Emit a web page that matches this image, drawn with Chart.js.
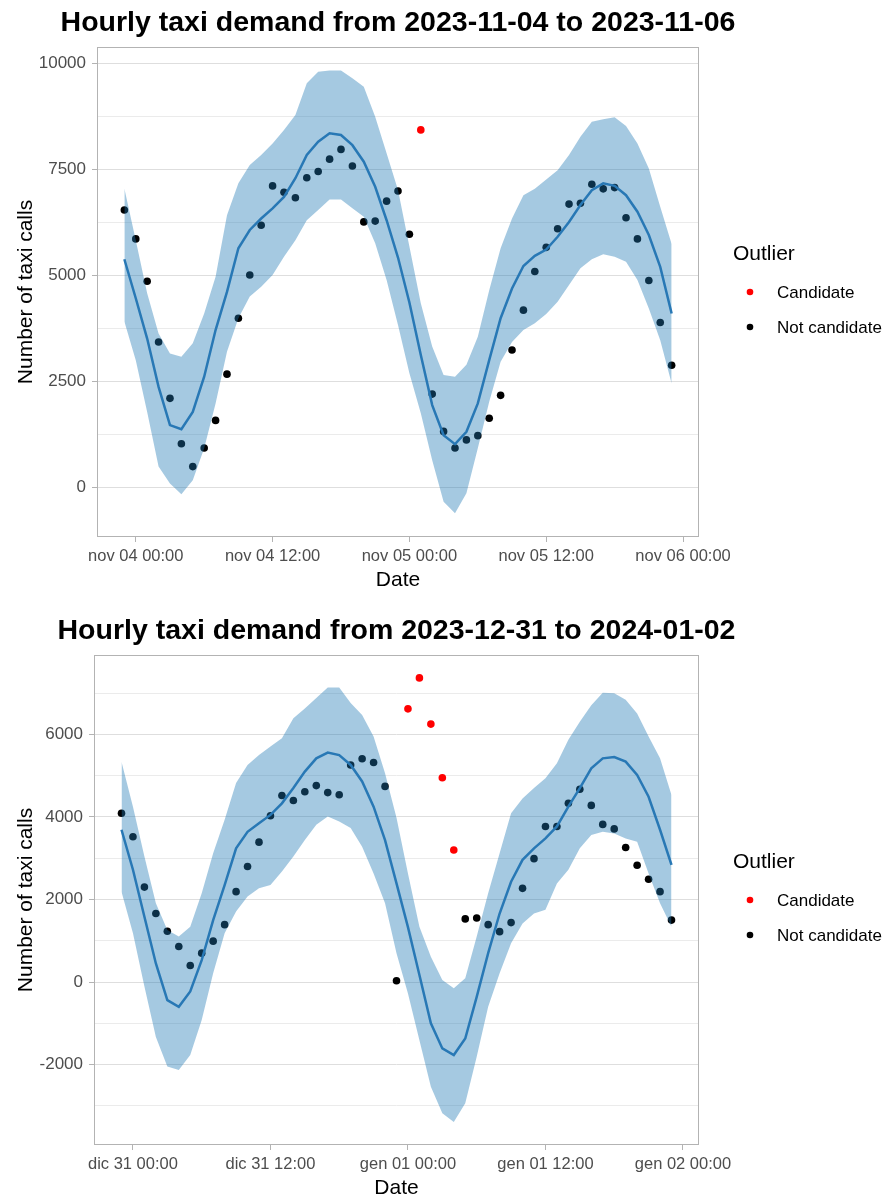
<!DOCTYPE html>
<html>
<head>
<meta charset="utf-8">
<title>Hourly taxi demand</title>
<script src="https://cdn.jsdelivr.net/npm/chart.js@4.4.1/dist/chart.umd.min.js"></script>
<style>
  html, body { margin: 0; padding: 0; background: #fff; overflow: hidden; }
  #wrap { position: relative; width: 888px; height: 1203px; }
  canvas { position: absolute; left: 0; }
  #chart-nov { top: 0; }
  #chart-ny { top: 608px; }
</style>
</head>
<body>
<div id="wrap">
  <canvas id="chart-nov" width="888" height="600"></canvas>
  <canvas id="chart-ny" width="888" height="600"></canvas>
</div>
<script>
const FONT = "'Liberation Sans', Arial, sans-serif";

// hours counted from 00:00 of the first labelled day
const hours = [-1, 0, 1, 2, 3, 4, 5, 6, 7, 8, 9, 10, 11, 12, 13, 14, 15, 16, 17, 18, 19, 20, 21, 22, 23,
  24, 25, 26, 27, 28, 29, 30, 31, 32, 33, 34, 35, 36, 37, 38, 39, 40, 41, 42, 43, 44, 45, 46, 47];
const xTicks = [0, 12, 24, 36, 48];

// --- 2023-11-04 .. 2023-11-06
const calls1 = [6540, 5860, 4860, 3430, 2100, 1030, 490, 930, 1580, 2670,
  3990, 5010, 6180, 7110, 6960, 6830, 7300, 7450, 7740, 7970,
  7580, 6260, 6280, 6750, 6990, 5970, 8430, 2200, 1320, 930,
  1120, 1220, 1630, 2170, 3240, 4180, 5090, 5660, 6100, 6680,
  6700, 7150, 7040, 7070, 6360, 5860, 4880, 3890, 2880];
const fit1 = [5380, 4460, 3510, 2370, 1470, 1370, 1780, 2610, 3710, 4610,
  5640, 6070, 6340, 6580, 6850, 7290, 7840, 8150, 8350, 8310,
  8070, 7680, 7090, 6300, 5420, 4360, 3120, 1940, 1230, 1020,
  1310, 1980, 3000, 3990, 4690, 5220, 5460, 5610, 5910, 6260,
  6660, 7010, 7170, 7110, 6890, 6500, 5950, 5200, 4100];
const upper1 = [7050, 5830, 4580, 3630, 3160, 3080, 3400, 4100, 4970, 6420,
  7170, 7600, 7840, 8110, 8430, 8780, 9530, 9800, 9830, 9830,
  9650, 9450, 8740, 7880, 7010, 5680, 4340, 3320, 2650, 2610,
  2890, 3550, 4650, 5640, 6340, 6890, 7040, 7260, 7480, 7840,
  8270, 8620, 8680, 8730, 8520, 8110, 7520, 6620, 5740];
const lower1 = [3910, 3000, 1780, 490, 90, -160, 170, 920, 1980, 3200,
  3990, 4500, 4730, 5010, 5440, 5830, 6300, 6540, 6790, 6790,
  6580, 6380, 5760, 4890, 3830, 2690, 1750, 640, -340, -610,
  -140, 920, 2020, 2960, 3430, 3710, 3870, 4090, 4380, 4770,
  5170, 5380, 5500, 5440, 5320, 4890, 4220, 3470, 2450];
const candidates1 = [25];
const xLabels1 = ['nov 04 00:00', 'nov 04 12:00', 'nov 05 00:00', 'nov 05 12:00', 'nov 06 00:00'];
const yMajor1 = [0, 2500, 5000, 7500, 10000];
const yMinor1 = [1250, 3750, 6250, 8750];

// --- 2023-12-31 .. 2024-01-02
const calls2 = [4090, 3520, 2300, 1660, 1230, 860, 400, 700, 990, 1390,
  2190, 2800, 3390, 4030, 4520, 4400, 4610, 4760, 4590, 4540,
  5260, 5410, 5320, 4740, 30, 6620, 7370, 6250, 4950, 3200,
  1530, 1550, 1390, 1220, 1440, 2270, 2990, 3770, 3770, 4330,
  4670, 4280, 3820, 3710, 3260, 2830, 2490, 2190, 1500];
const fit2 = [3690, 2720, 1580, 450, -440, -600, -230, 530, 1500, 2350,
  3240, 3640, 3850, 4050, 4330, 4700, 5100, 5420, 5560, 5500,
  5260, 4860, 4250, 3440, 2390, 1330, 170, -1000, -1610, -1770,
  -1370, -360, 700, 1660, 2430, 2960, 3240, 3480, 3770, 4250,
  4700, 5180, 5420, 5450, 5340, 5020, 4490, 3690, 2840];
const upper2 = [5340, 4250, 3040, 1910, 1260, 1100, 1340, 2150, 3120, 3930,
  4820, 5260, 5500, 5710, 5910, 6390, 6630, 6880, 7140, 7140,
  6760, 6470, 5950, 5060, 3980, 2630, 1340, 610, 50, -150,
  90, 1100, 2150, 3120, 4090, 4450, 4700, 4940, 5300, 5870,
  6310, 6710, 7010, 7000, 6840, 6510, 5950, 5420, 4530];
const lower2 = [2190, 1180, -110, -1330, -2050, -2130, -1770, -920, 210, 1180,
  1710, 2070, 2270, 2350, 2680, 3040, 3440, 3810, 4010, 3890,
  3730, 3280, 2630, 1910, 700, -280, -1410, -2540, -3180, -3390,
  -2940, -1810, -600, 210, 940, 1420, 1660, 1750, 2390, 2720,
  3240, 3560, 3640, 3600, 3480, 3400, 2630, 1910, 1340];
const candidates2 = [24, 25, 26, 27, 28];
const xLabels2 = ['dic 31 00:00', 'dic 31 12:00', 'gen 01 00:00', 'gen 01 12:00', 'gen 02 00:00'];
const yMajor2 = [-2000, 0, 2000, 4000, 6000];
const yMinor2 = [-3000, -1000, 1000, 3000, 5000, 7000];

const LINE_COLOR = '#2878b5';
const RIBBON = 'rgba(31, 119, 180, 0.4)';
const GREY = '#b3b3b3';

// title centred over the panel, like ggplot
const ggTitle = {
  id: 'ggTitle',
  afterDraw(chart, args, opts) {
    const { ctx, chartArea: a } = chart;
    ctx.save();
    ctx.font = `bold 28.5px ${FONT}`;
    ctx.fillStyle = '#000';
    ctx.textAlign = 'center';
    ctx.textBaseline = 'alphabetic';
    ctx.fillText(opts.text, (a.left + a.right) / 2, 31);
    ctx.restore();
  }
};

// grey frame round the panel
const panelFrame = {
  id: 'panelFrame',
  afterDraw(chart) {
    const { ctx, chartArea: a } = chart;
    ctx.save();
    ctx.strokeStyle = GREY;
    ctx.lineWidth = 1;
    ctx.strokeRect(a.left + 0.5, a.top + 0.5, a.right - a.left - 1, a.bottom - a.top - 1);
    ctx.restore();
  }
};

// "Outlier" legend on the right
const outlierLegend = {
  id: 'outlierLegend',
  afterDraw(chart) {
    const { ctx, chartArea: a } = chart;
    const mid = (a.top + a.bottom) / 2;
    const x0 = a.right + 34;
    const items = chart.data.datasets.filter(d => d.legendKey).sort((p, q) => p.legendKey - q.legendKey);
    ctx.save();
    ctx.textAlign = 'left';
    ctx.textBaseline = 'middle';
    ctx.fillStyle = '#000';
    ctx.font = `21px ${FONT}`;
    ctx.fillText('Outlier', x0, mid - 38);
    ctx.font = `17px ${FONT}`;
    items.forEach((d, k) => {
      const y = mid + k * 35;
      ctx.fillStyle = d.pointBackgroundColor;
      ctx.beginPath();
      ctx.arc(x0 + 17, y, 3.3, 0, Math.PI * 2);
      ctx.fill();
      ctx.fillStyle = '#000';
      ctx.fillText(d.label, x0 + 44, y + 1.5);
    });
    ctx.restore();
  }
};

function makeChart(id, cfg) {
  const pts = arr => hours.map((h, i) => ({ x: h, y: arr[i] }));
  const normal = [];
  const flagged = [];
  hours.forEach((h, i) => {
    (cfg.candidates.includes(h) ? flagged : normal).push({ x: h, y: cfg.calls[i] });
  });
  const isMajor = v => cfg.yMajor.includes(v);

  return new Chart(document.getElementById(id), {
    type: 'line',
    data: {
      datasets: [
        { label: 'fit', data: pts(cfg.fit), borderColor: LINE_COLOR, borderWidth: 2.5,
          pointRadius: 0, fill: false, tension: 0, order: 0 },
        { label: 'upper', data: pts(cfg.upper), borderColor: 'transparent', borderWidth: 0,
          pointRadius: 0, fill: '+1', backgroundColor: RIBBON, tension: 0, order: 1 },
        { label: 'lower', data: pts(cfg.lower), borderColor: 'transparent', borderWidth: 0,
          pointRadius: 0, fill: false, tension: 0, order: 1 },
        { label: 'Not candidate', legendKey: 2, data: normal, showLine: false, pointRadius: 3.8,
          pointBackgroundColor: '#000000', pointBorderWidth: 0, order: 2 },
        { label: 'Candidate', legendKey: 1, data: flagged, showLine: false, pointRadius: 3.8,
          pointBackgroundColor: '#ff0000', pointBorderWidth: 0, order: 2 }
      ]
    },
    options: {
      responsive: false,
      animation: false,
      events: [],
      layout: { padding: { top: 47, right: 189, bottom: 0, left: 0 } },
      plugins: {
        legend: { display: false },
        tooltip: { enabled: false },
        ggTitle: { text: cfg.title }
      },
      scales: {
        x: {
          type: 'linear',
          min: -3.4,
          max: 49.4,
          afterBuildTicks: s => { s.ticks = xTicks.map(v => ({ value: v })); },
          afterFit: s => { s.height = 63; },
          grid: { drawOnChartArea: false, drawTicks: true, tickLength: 5, tickColor: GREY, tickWidth: 1 },
          border: { display: false },
          ticks: {
            color: '#4d4d4d', font: { family: FONT, size: 16.5 }, padding: 5,
            maxRotation: 0, autoSkip: false,
            callback: v => cfg.xLabels[xTicks.indexOf(v)]
          },
          title: { display: true, text: 'Date', color: '#000',
            font: { family: FONT, size: 21 }, padding: { top: 0, bottom: 7 } }
        },
        y: {
          type: 'linear',
          min: cfg.yMin,
          max: cfg.yMax,
          afterBuildTicks: s => {
            s.ticks = cfg.yMajor.concat(cfg.yMinor).sort((p, q) => p - q).map(v => ({ value: v }));
          },
          afterFit: s => { s.width = cfg.axisWidth; },
          grid: {
            color: c => (c.tick && isMajor(c.tick.value)) ? '#dedede' : '#ebebeb',
            tickColor: c => (c.tick && isMajor(c.tick.value)) ? GREY : 'rgba(0,0,0,0)',
            tickLength: 5,
            lineWidth: 1
          },
          border: { display: false },
          ticks: {
            color: '#4d4d4d', font: { family: FONT, size: 17 }, padding: 6, autoSkip: false,
            callback: v => isMajor(v) ? String(v) : ''
          },
          title: { display: true, text: 'Number of taxi calls', color: '#000',
            font: { family: FONT, size: 21 }, padding: { top: 14, bottom: 0 } }
        }
      }
    },
    plugins: [ggTitle, panelFrame, outlierLegend]
  });
}

makeChart('chart-nov', {
  title: 'Hourly taxi demand from 2023-11-04 to 2023-11-06',
  calls: calls1, fit: fit1, upper: upper1, lower: lower1, candidates: candidates1,
  xLabels: xLabels1, yMajor: yMajor1, yMinor: yMinor1,
  yMin: -1170, yMax: 10385, axisWidth: 97
});

makeChart('chart-ny', {
  title: 'Hourly taxi demand from 2023-12-31 to 2024-01-02',
  calls: calls2, fit: fit2, upper: upper2, lower: lower2, candidates: candidates2,
  xLabels: xLabels2, yMajor: yMajor2, yMinor: yMinor2,
  yMin: -3950, yMax: 7925, axisWidth: 94
});
</script>
</body>
</html>
